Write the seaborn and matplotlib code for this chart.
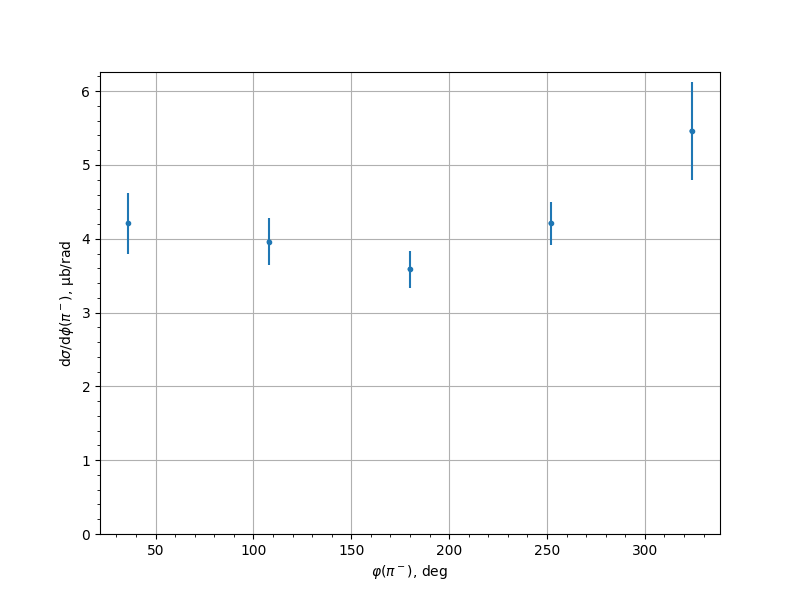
import matplotlib
matplotlib.use("Agg")
import matplotlib.pyplot as plt
import seaborn as sns
import numpy as np
import pandas as pd

phi_deg = [36, 108, 180, 252, 324]
dsigma = [4.21, 3.96, 3.59, 4.21, 5.46]
dsigma_err = [0.41, 0.32, 0.25, 0.29, 0.67]

df = pd.DataFrame({"phi": phi_deg, "val": dsigma, "err": dsigma_err})

fig, ax = plt.subplots(figsize=(8, 6), dpi=100)
ax.errorbar(df["phi"], df["val"], yerr=df["err"], fmt=".", color="#1f77b4")
sns.scatterplot(data=df, x="phi", y="val", ax=ax, color="#1f77b4", s=12,
                edgecolor="none", legend=False)
ax.set_ylim(0, 6.26)
ax.set_xlim(21.6, 338.4)
ax.minorticks_on()
ax.grid(True, which="major")
ax.set_axisbelow(True)
ax.set_xlabel(r"$\varphi(\pi^-)$, deg")
ax.set_ylabel(r"d$\sigma$/d$\phi$($\pi^-$), μb/rad")
fig.savefig("out.png", dpi=100)
